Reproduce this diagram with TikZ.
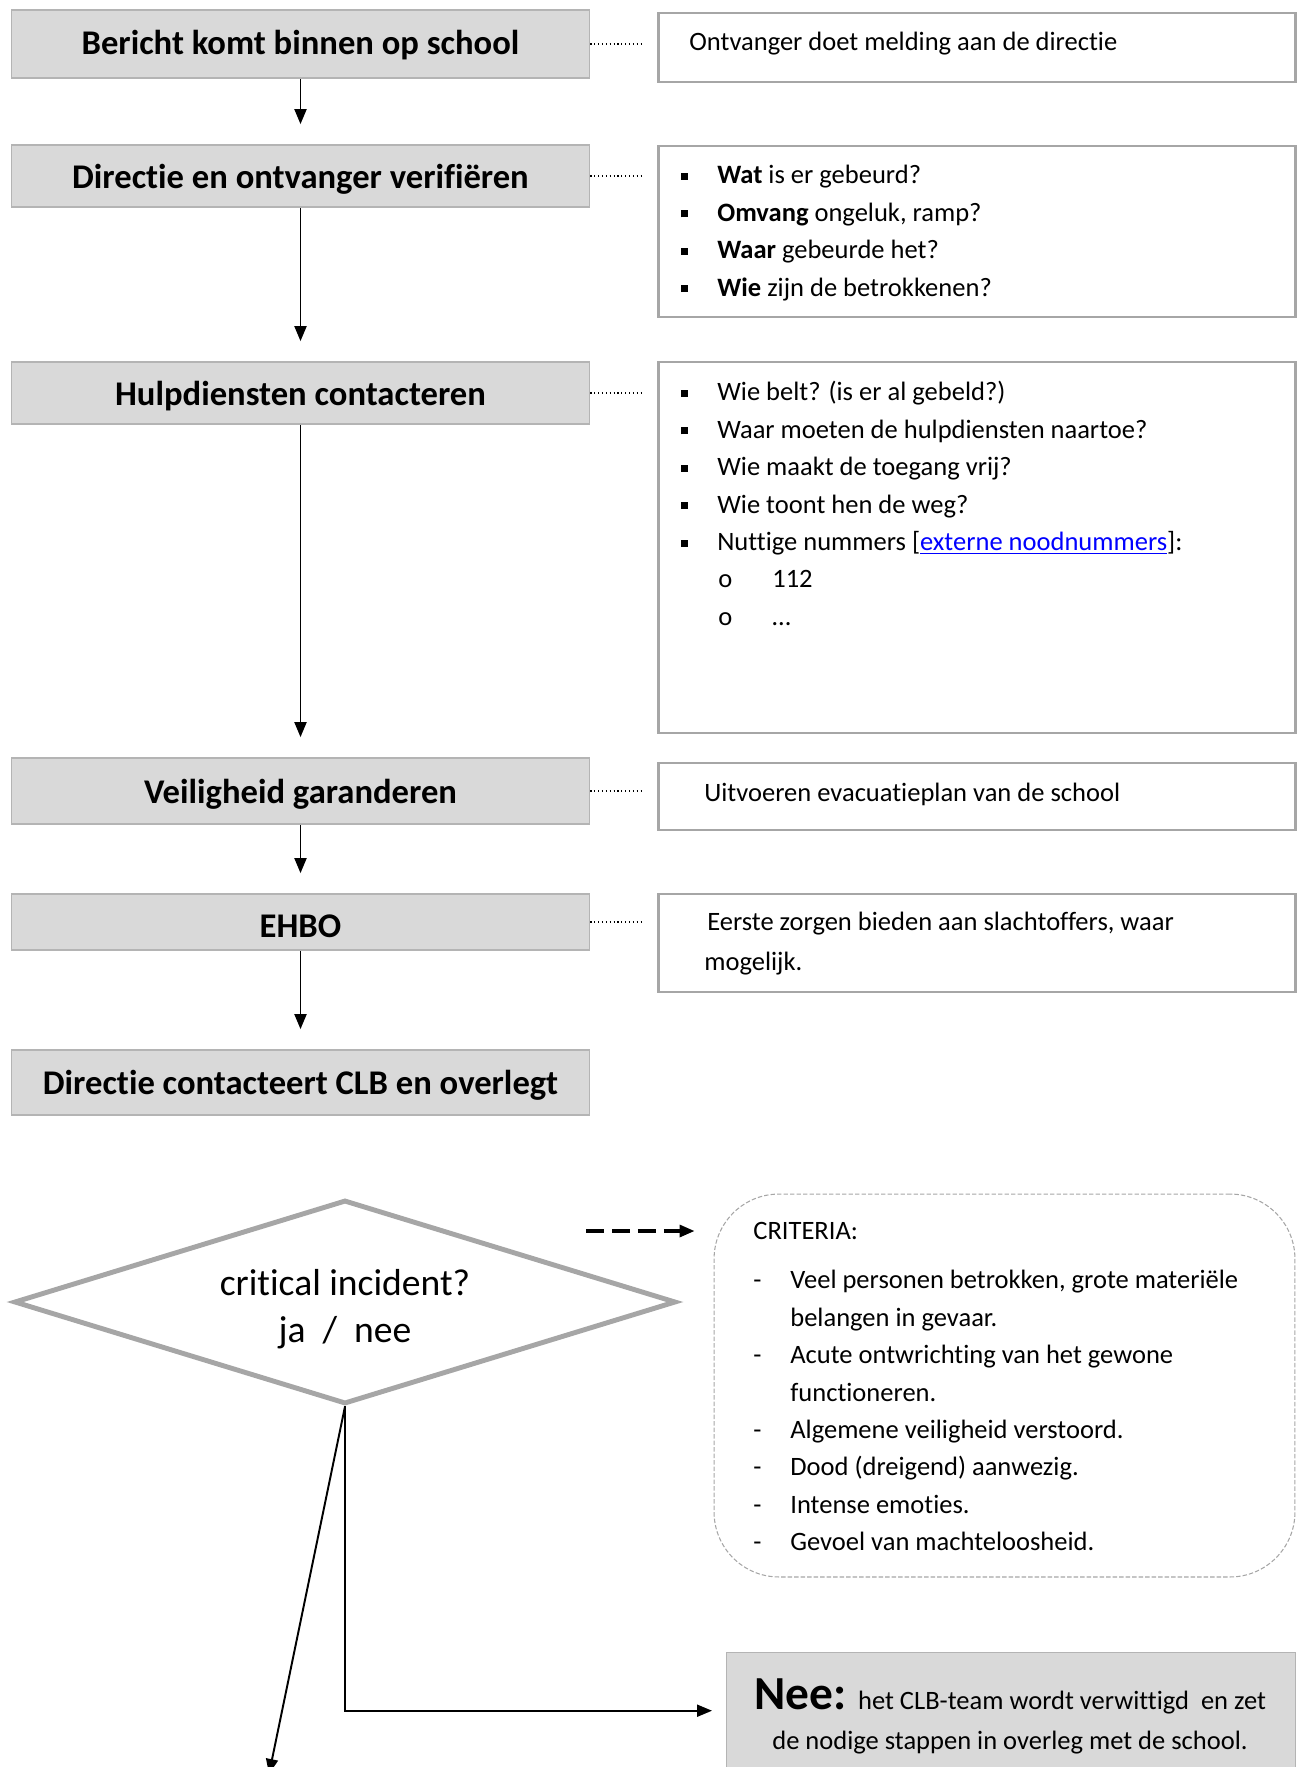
\documentclass[tikz,border=0pt]{standalone}
\usepackage{fontspec}
\setmainfont{Carlito}[Ligatures=NoCommon]
\usetikzlibrary{arrows.meta, shapes.geometric}

\definecolor{BoxGrey}{RGB}{217,217,217}
\definecolor{EdgeGrey}{RGB}{180,180,180}
\definecolor{FrameGrey}{RGB}{166,166,166}
\definecolor{LinkBlue}{RGB}{0,0,255}

\newcommand{\titelfont}{\fontsize{19.7}{23.6}\selectfont\bfseries}
\newcommand{\tekstfont}{\fontsize{15.1}{21.3}\selectfont}
\newcommand{\hoog}{\rule{0pt}{0.4cm}}
\newcommand{\blokje}{\makebox[0.72cm][l]{\raisebox{0.08cm}{\rule{0.14cm}{0.14cm}}}}
\newcommand{\rondje}{\hspace*{0.74cm}\makebox[1.08cm][l]{o}}
\newcommand{\streepje}{\makebox[0.74cm][l]{-}}

\begin{document}
\begin{tikzpicture}[x=0.02cm, y=-0.02cm,
    stapbox/.style={rectangle, draw=EdgeGrey, line width=1pt, fill=BoxGrey,
                    minimum width=11.56cm, inner sep=0pt, text height=18pt, text depth=4pt,
                    font=\titelfont},
    infobox/.style={rectangle, draw=FrameGrey, line width=1.6pt, fill=white,
                    minimum width=12.74cm, inner sep=0pt},
    tekst/.style={inner sep=0pt, font=\tekstfont, align=left},
    pijl/.style={-{Triangle[length=0.3cm, width=0.24cm]}, line width=1.1pt},
    stippel/.style={line width=0.7pt, dash pattern=on 0.7pt off 1.5pt, shorten >=0.26cm},
    ruit/.style={diamond, draw=FrameGrey, line width=2.8pt, aspect=3.3, minimum width=13.24cm,
                 minimum height=4.08cm, inner sep=0pt},
    criteriabox/.style={rectangle, rounded corners=1.3cm, draw=FrameGrey, line width=0.6pt,
                        dash pattern=on 2.5pt off 1.2pt, minimum width=11.62cm, minimum height=7.66cm},
    neebox/.style={rectangle, fill=BoxGrey, draw=EdgeGrey, line width=0.8pt, inner sep=0pt,
                   minimum width=11.38cm, minimum height=2.8cm}
]
\useasboundingbox (0,0) rectangle (1299,1767);

% stappen links
\node[stapbox, minimum height=1.36cm, text depth=6.6pt] (bericht) at (300.5,44) {Bericht komt binnen op school};
\node[stapbox, minimum height=1.24cm] (verifieren) at (300.5,176) {Directie en ontvanger verifiëren};
\node[stapbox, minimum height=1.24cm] (hulp) at (300.5,393) {Hulpdiensten contacteren};
\node[stapbox, minimum height=1.32cm] (veiligheid) at (300.5,791) {Veiligheid garanderen};
\node[stapbox, minimum height=1.12cm, text depth=0.2pt] (ehbo) at (300.5,922) {EHBO};
\node[stapbox, minimum height=1.3cm] (clb) at (300.5,1082.5) {Directie contacteert CLB en overlegt};

\foreach \a/\b in {bericht/verifieren, verifieren/hulp, hulp/veiligheid, veiligheid/ehbo, ehbo/clb}
    \draw[pijl, shorten >=0.4cm] (\a) -- (\b);

% toelichting rechts
\node[infobox, minimum height=1.38cm] (melding) at (977,47.5) {};
\node[infobox, minimum height=3.42cm] (vragen) at (977,231.5) {};
\node[infobox, minimum height=7.42cm] (nummers) at (977,547.5) {};
\node[infobox, minimum height=1.34cm] (evacuatie) at (977,796.5) {};
\node[infobox, minimum height=1.96cm] (zorgen) at (977,943) {};

\foreach \a/\b in {bericht/melding, verifieren/vragen, hulp/nummers, veiligheid/evacuatie, ehbo/zorgen}
    \draw[stippel] (\a.east) -- (\a.east -| \b.west);

\node[tekst, anchor=base west] (meldingtekst) at (689,50.5) {Ontvanger doet melding aan de directie};
\node[tekst, anchor=north west] (vragentekst) at (681,163.5) {\hoog\blokje\textbf{Wat} is er gebeurd?\\
    \blokje\textbf{Omvang} ongeluk, ramp?\\
    \blokje\textbf{Waar} gebeurde het?\\
    \blokje\textbf{Wie} zijn de betrokkenen?};
\node[tekst, anchor=north west] (nummerstekst) at (681,380.5) {\hoog\blokje Wie belt? (is er al gebeld?)\\
    \blokje Waar moeten de hulpdiensten naartoe?\\
    \blokje Wie maakt de toegang vrij?\\
    \blokje Wie toont hen de weg?\\
    \blokje Nuttige nummers [\textcolor{LinkBlue}{\underline{externe noodnummers}}]:\\
    \rondje 112\\
    \rondje …};
\node[tekst, anchor=base west] (evacuatietekst) at (704,801.5) {Uitvoeren evacuatieplan van de school};
\node[tekst, anchor=north west, font=\fontsize{15.1}{22.8}\selectfont] (zorgentekst) at (704,910.5)
    {\hoog\hspace*{0.06cm}Eerste zorgen bieden aan slachtoffers, waar\\mogelijk.};

% beslissing
\node[ruit] (ruit) at (345,1302) {};
\node[align=center, inner sep=0pt, font=\fontsize{21.4}{26.8}\selectfont] (ruittekst) at (345,1309)
    {critical incident?\\ja~~/~~nee};

\node[criteriabox] (criteria) at (1004.5,1385.5) {};
\node[tekst, anchor=north west] (criteriatekst) at (753,1219.5) {\hoog CRITERIA:\\[0.23cm]
    \streepje Veel personen betrokken, grote materiële\\
    \hspace*{0.74cm}belangen in gevaar.\\
    \streepje Acute ontwrichting van het gewone\\
    \hspace*{0.74cm}functioneren.\\
    \streepje Algemene veiligheid verstoord.\\
    \streepje Dood (dreigend) aanwezig.\\
    \streepje Intense emoties.\\
    \streepje Gevoel van machteloosheid.};

\coordinate (streepbegin) at (586,1231);
\draw[pijl, line width=1.8pt, dash pattern=on 0.36cm off 0.16cm, shorten >=0.38cm]
    (streepbegin) -- (streepbegin -| criteria.west);

\node[neebox, anchor=north west] (nee) at (726,1652) {};
\node[tekst, align=center, anchor=north, font=\fontsize{15.1}{23}\selectfont] (neetekst) at (1010,1678)
    {\rule{0pt}{0.6cm}{\fontsize{27}{23}\selectfont\bfseries Nee:}~~het CLB-team wordt verwittigd~~en zet\\
     de nodige stappen in overleg met de school.};

\coordinate (jaeinde) at (269,1774);
\draw[pijl] (ruit.south) -- (jaeinde);
\draw[pijl, shorten >=0.28cm] (ruit.south) |- ([yshift=0.24cm]nee.west);
\end{tikzpicture}
\end{document}
